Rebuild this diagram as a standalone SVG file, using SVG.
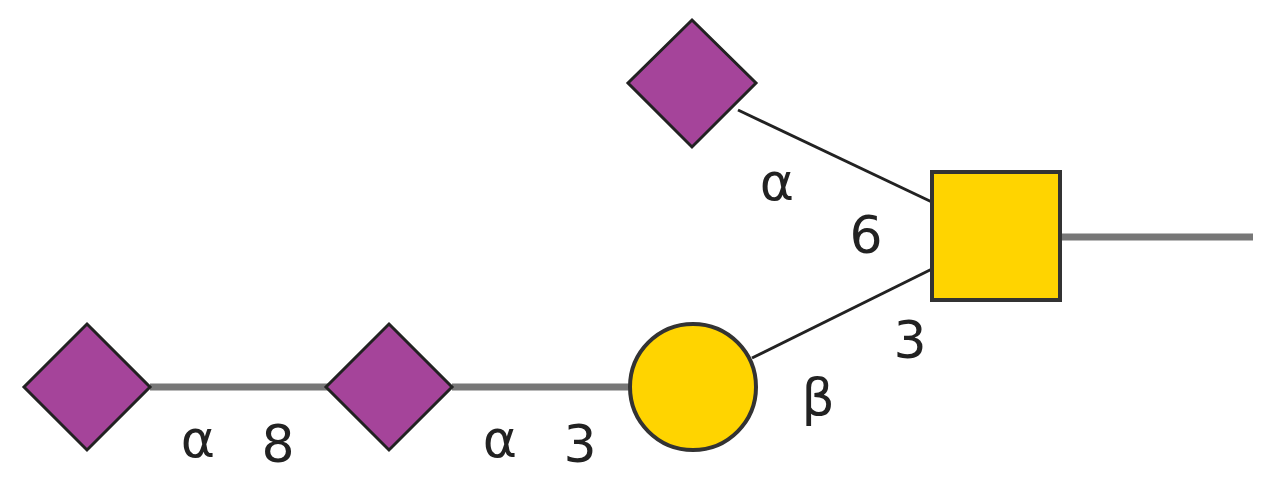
<svg xmlns="http://www.w3.org/2000/svg" width="1267" height="477" viewBox="0 0 1267 477">
<style>
.d{fill:#A5449A;stroke:#222;stroke-width:3}
.y{fill:#FFD400;stroke:#333;stroke-width:4}
.t{font-family:"DejaVu Sans",sans-serif;font-size:52px;fill:#222;text-anchor:middle}
</style>
<rect width="1267" height="477" fill="#fff"/>
<g id="connectors">
<line x1="1060" y1="237" x2="1253" y2="237" stroke="#777" stroke-width="7"/>
<line x1="150" y1="387" x2="328" y2="387" stroke="#777" stroke-width="7"/>
<line x1="452" y1="387" x2="630" y2="387" stroke="#777" stroke-width="7"/>
<line x1="738" y1="110" x2="934" y2="203" stroke="#222" stroke-width="3"/>
<line x1="752" y1="358" x2="934" y2="268" stroke="#222" stroke-width="3"/>
</g>
<g id="n1"><polygon class="d" points="692,20 756,83 692,147 628,83"/></g>
<g id="n2"><rect class="y" x="932" y="172" width="128" height="128"/></g>
<g id="n3"><circle class="y" cx="693" cy="387" r="63" stroke="#222" stroke-width="3"/></g>
<g id="n4"><polygon class="d" points="389,324 452,387 389,450 326,387"/></g>
<g id="n5"><polygon class="d" points="87,324 150,387 87,450 24,387"/></g>
<g id="labels">
<text class="t" x="777" y="200">α</text>
<text class="t" x="866" y="253">6</text>
<text class="t" x="910" y="358">3</text>
<text class="t" x="818" y="415">β</text>
<text class="t" x="198" y="457">α</text>
<text class="t" x="278" y="462">8</text>
<text class="t" x="500" y="457">α</text>
<text class="t" x="580" y="462">3</text>
</g>
</svg>
